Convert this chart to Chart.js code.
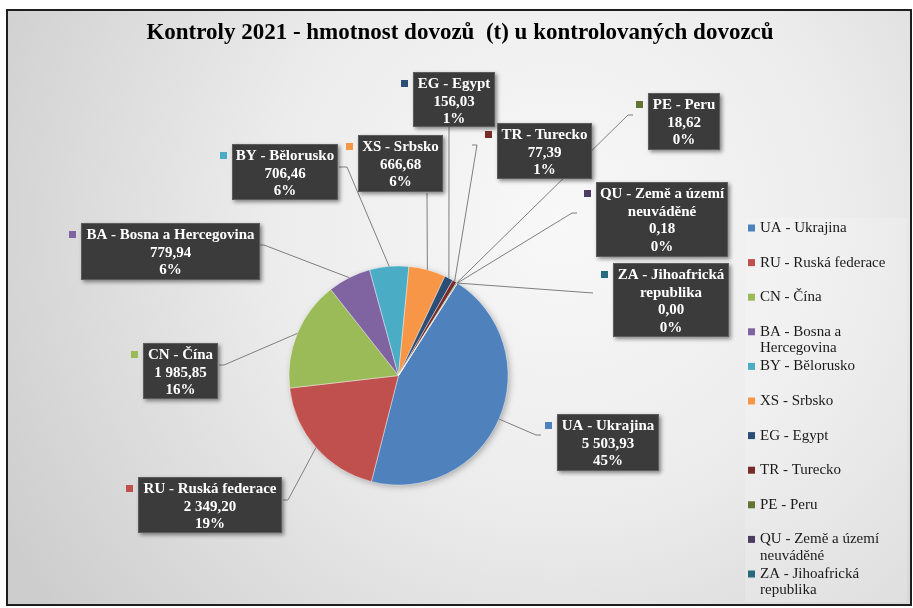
<!DOCTYPE html>
<html><head><meta charset="utf-8">
<script src="https://cdn.jsdelivr.net/npm/chart.js@4/dist/chart.umd.min.js"></script>
<style>html,body{margin:0;padding:0;background:#fff}canvas{display:block}</style>
</head><body>
<canvas id="c" width="913" height="608"></canvas>
<script>
// ---- data ----
const chartTitle = 'Kontroly 2021 - hmotnost dovozů  (t) u kontrolovaných dovozců';
const codes = ['UA','RU','CN','BA','BY','XS','EG','TR','PE','QU','ZA'];
const countries = ['Ukrajina','Ruská federace','Čína','Bosna a Hercegovina','Bělorusko','Srbsko','Egypt','Turecko','Peru','Země a území neuváděné','Jihoafrická republika'];
const tonnes = [5503.93, 2349.20, 1985.85, 779.94, 706.46, 666.68, 156.03, 77.39, 18.62, 0.18, 0.00];
const percentLabels = ['45%','19%','16%','6%','6%','6%','1%','1%','0%','0%','0%'];
const sliceColors = ['#4F81BD','#C0504D','#9BBB59','#8064A2','#4BACC6','#F79646','#2C4D75','#772C2A','#5F7530','#4D3B62','#276A7C'];

const categories = codes.map((c, i) => c + ' - ' + countries[i]);

// ---- layout of data-label boxes (positions only) ----
const boxLayout = [
  {r:[557,414,102,57], wrap:220, lead:[[536,435],[541,435]]},   // UA
  {r:[138,477,144,56], wrap:220, lead:[[288,500],[283,500]]},   // RU
  {r:[143,343,75,56],  wrap:220, lead:[[224,365],[219,365]]},   // CN
  {r:[81,223,179,57],  wrap:220, lead:[[264,245],[260,245]]},   // BA
  {r:[232,144,106,56], wrap:220, lead:[[347,167],[339,167]]},   // BY
  {r:[358,135,85,57],  wrap:220, lead:[[427,193]]},             // XS
  {r:[413,72,82,55],   wrap:220, lead:[[449,127]]},             // EG
  {r:[497,123,95,56],  wrap:220, lead:[[477,145],[472,145]]},   // TR
  {r:[648,93,72,57],   wrap:220, lead:[[628,115],[633,115]]},   // PE
  {r:[596,182,132,75], wrap:135, lead:[[572,213],[577,213]]},   // QU
  {r:[613,263,116,74], wrap:125, lead:[[593,293]]}              // ZA
];

function fmt(v){
  const p = v.toFixed(2).split('.');
  return p[0].replace(/\B(?=(\d{3})+(?!\d))/g, ' ') + ',' + p[1];
}
function wrapText(ctx, text, maxW){
  const words = text.split(' ');
  const lines = [];
  let cur = '';
  for (const w of words){
    const t = cur ? cur + ' ' + w : w;
    if (cur && ctx.measureText(t).width > maxW){ lines.push(cur); cur = w; }
    else cur = t;
  }
  if (cur) lines.push(cur);
  return lines;
}

const decor = {
  id: 'decor',
  beforeDraw(chart){
    const ctx = chart.ctx;
    ctx.save();
    ctx.fillStyle = '#ffffff';
    ctx.fillRect(0,0,chart.width,chart.height);
    const g = ctx.createRadialGradient(560,220,0,560,220,640);
    g.addColorStop(0,'#f8f8f8');
    g.addColorStop(0.45,'#ececec');
    g.addColorStop(1,'#cdcdcd');
    ctx.fillStyle = g;
    ctx.fillRect(7,10,904,595);
    // legend panel
    ctx.fillStyle = 'rgba(255,255,255,0.18)';
    ctx.fillRect(745,218,162,384);
    ctx.strokeStyle = '#1e1e1e';
    ctx.lineWidth = 2;
    ctx.strokeRect(7,10,904,595);
    // title
    ctx.fillStyle = '#000';
    ctx.font = 'bold 23px "Liberation Serif", "Times New Roman", serif';
    ctx.textAlign = 'center';
    ctx.textBaseline = 'middle';
    ctx.fillText(chartTitle, 460, 33);
    ctx.restore();
  },
  beforeDatasetsDraw(chart){
    const ctx = chart.ctx;
    const a = chart.getDatasetMeta(0).data[0];
    ctx.save();
    ctx.shadowColor = 'rgba(0,0,0,0.35)';
    ctx.shadowBlur = 7;
    ctx.shadowOffsetX = 2;
    ctx.shadowOffsetY = 2;
    ctx.fillStyle = '#888';
    ctx.beginPath();
    ctx.arc(a.x, a.y, a.outerRadius - 1, 0, Math.PI*2);
    ctx.fill();
    ctx.restore();
  },
  afterDatasetsDraw(chart){
    const ctx = chart.ctx;
    const meta = chart.getDatasetMeta(0);
    ctx.save();
    ctx.strokeStyle = '#7f7f7f';
    ctx.lineWidth = 1;
    meta.data.forEach((arc, i) => {
      const m = (arc.startAngle + arc.endAngle) / 2;
      const R = arc.outerRadius;
      ctx.beginPath();
      ctx.moveTo(arc.x + R*Math.cos(m), arc.y + R*Math.sin(m));
      const pts = boxLayout[i].lead;
      if (pts.length === 1){
        // vertical or straight leader
        ctx.lineTo(pts[0][0], pts[0][1]);
      } else {
        pts.forEach(p => ctx.lineTo(p[0], p[1]));
      }
      ctx.stroke();
    });
    ctx.restore();
  },
  afterDraw(chart){
    const ctx = chart.ctx;
    ctx.save();
    // data label boxes
    ctx.font = 'bold 15px "Liberation Serif", "Times New Roman", serif';
    ctx.textAlign = 'center';
    ctx.textBaseline = 'middle';
    tonnes.forEach((v, i) => {
      const L = boxLayout[i];
      const [x, y, w, h] = L.r;
      ctx.save();
      ctx.shadowColor = 'rgba(0,0,0,0.45)';
      ctx.shadowBlur = 4;
      ctx.shadowOffsetX = 2;
      ctx.shadowOffsetY = 2;
      ctx.fillStyle = '#3b3b3b';
      ctx.fillRect(x, y, w, h);
      ctx.restore();
      ctx.strokeStyle = '#5c5c5c';
      ctx.lineWidth = 1;
      ctx.strokeRect(x+0.5, y+0.5, w-1, h-1);
      // marker
      ctx.fillStyle = sliceColors[i];
      ctx.fillRect(x - 12, y + 8, 7, 7);
      const lines = wrapText(ctx, categories[i], L.wrap).concat([fmt(v), percentLabels[i]]);
      ctx.fillStyle = '#ffffff';
      lines.forEach((t, k) => ctx.fillText(t, x + w/2, y + 12.5 + k*17.5));
    });
    // legend
    ctx.font = '15px "Liberation Serif", "Times New Roman", serif';
    ctx.textAlign = 'left';
    categories.forEach((c, i) => {
      const yy = 228 + i*34.6;
      ctx.fillStyle = sliceColors[i];
      ctx.fillRect(748, yy - 3.5, 7, 7);
      ctx.fillStyle = '#1a1a1a';
      wrapText(ctx, c, 145).forEach((t, k) => ctx.fillText(t, 760, yy + k*16.5));
    });
    ctx.restore();
  }
};

new Chart(document.getElementById('c'), {
  type: 'pie',
  data: {
    labels: categories,
    datasets: [{
      data: tonnes,
      backgroundColor: sliceColors,
      borderColor: 'rgba(255,255,255,0.55)',
      borderWidth: 0.8
    }]
  },
  options: {
    responsive: false,
    animation: false,
    devicePixelRatio: 1,
    rotation: 32.5,
    layout: { padding: { left: 288.5, top: 265.5, right: 404.5, bottom: 122.5 } },
    plugins: { legend: { display: false }, title: { display: false }, tooltip: { enabled: false } },
    events: []
  },
  plugins: [decor]
});
</script>
</body></html>
